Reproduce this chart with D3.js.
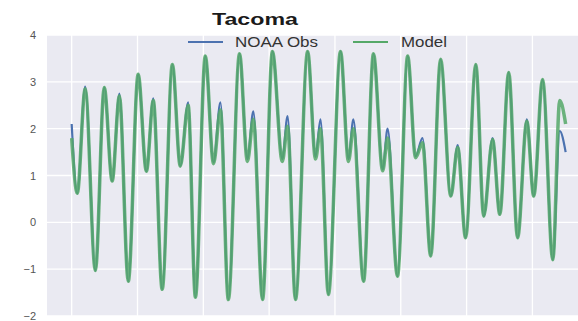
<!DOCTYPE html>
<html>
<head>
<meta charset="utf-8">
<script src="https://cdn.jsdelivr.net/npm/d3@7"></script>
<style>
body { margin: 0; background: #fff; }
text { font-family: "Liberation Sans", Arial, sans-serif; }
</style>
</head>
<body>
<div id="chart"></div>
<script>
// times in days from start, read at each high / low water
var days = [0, 0.17, 0.41, 0.72, 0.99, 1.23, 1.45, 1.72, 2.02, 2.27, 2.48, 2.75, 3.06, 3.30, 3.54, 3.76,
    4.06, 4.31, 4.52, 4.76, 5.10, 5.34, 5.52, 5.80, 6.10, 6.40, 6.56, 6.80, 7.17, 7.41, 7.56, 7.80,
    8.17, 8.41, 8.56, 8.87, 9.17, 9.45, 9.60, 9.90, 10.21, 10.45, 10.66, 10.91, 11.21, 11.52, 11.73, 11.97,
    12.28, 12.52, 12.79, 13.01, 13.28, 13.55, 13.83, 14.04, 14.31, 14.62, 14.83, 15.01];
var obs = [2.1, 0.62, 2.9, -1.03, 2.88, 0.88, 2.75, -1.26, 3.16, 1.09, 2.65, -1.43, 3.37, 1.2, 2.56, -1.6,
    3.55, 1.28, 2.56, -1.65, 3.6, 1.35, 2.37, -1.65, 3.65, 1.35, 2.27, -1.65, 3.65, 1.4, 2.2, -1.54,
    3.65, 1.35, 2.2, -1.26, 3.6, 1.13, 2.0, -1.15, 3.55, 1.41, 1.8, -0.72, 3.48, 0.56, 1.65, -0.33,
    3.37, 0.13, 1.8, 0.17, 3.2, -0.33, 2.2, 0.56, 3.05, -0.8, 1.95, 1.5];
var model = [1.8, 0.62, 2.85, -1.03, 2.88, 0.88, 2.7, -1.26, 3.16, 1.09, 2.6, -1.43, 3.37, 1.2, 2.5, -1.6,
    3.55, 1.25, 2.4, -1.65, 3.6, 1.3, 2.2, -1.65, 3.65, 1.3, 2.05, -1.65, 3.65, 1.35, 2.0, -1.54,
    3.65, 1.3, 2.0, -1.26, 3.6, 1.1, 1.8, -1.15, 3.55, 1.38, 1.7, -0.72, 3.48, 0.56, 1.6, -0.33,
    3.37, 0.13, 1.77, 0.17, 3.2, -0.33, 2.16, 0.56, 3.05, -0.8, 2.6, 2.1];
var yticks = [-2, -1, 0, 1, 2, 3, 4];
var xgrid = [0, 2, 4, 6, 8, 10, 12, 14];

var w = 578;
var h = 321;
var pl = 47, pr = 590, pt = 35, pb = 316;

var svg = d3.select("#chart")
    .append("svg")
    .attr("width", w)
    .attr("height", h);

var xscale = d3.scaleLinear()
    .domain([-0.75, 15.75])
    .range([pl, pr]);
var yscale = d3.scaleLinear()
    .domain([-2, 4])
    .range([pb, pt]);

svg.append("rect")
    .attr("x", pl)
    .attr("y", pt)
    .attr("width", pr - pl)
    .attr("height", pb - pt)
    .attr("fill", "#eaeaf2");

// grid
svg.selectAll(".hgrid")
    .data(yticks)
    .enter().append("line")
    .attr("x1", pl).attr("x2", pr)
    .attr("y1", function(d) { return yscale(d); })
    .attr("y2", function(d) { return yscale(d); })
    .attr("stroke", "#fff")
    .attr("stroke-width", 1.3);
svg.selectAll(".vgrid")
    .data(xgrid)
    .enter().append("line")
    .attr("y1", pt).attr("y2", pb)
    .attr("x1", function(d) { return xscale(d); })
    .attr("x2", function(d) { return xscale(d); })
    .attr("stroke", "#fff")
    .attr("stroke-width", 1.3);

var yaxis = d3.axisLeft()
    .scale(yscale)
    .tickValues(yticks)
    .tickFormat(d3.format("d"))
    .tickSize(0)
    .tickPadding(11);
var gY = svg.append("g")
    .attr("transform", "translate(" + pl + ",0)")
    .call(yaxis);
gY.select(".domain").remove();
gY.selectAll("text")
    .attr("font-size", 11)
    .attr("font-family", "Liberation Sans, Arial, sans-serif")
    .attr("fill", "#555");

var line = function(vals) {
    return d3.line()
        .x(function(d, i) { return xscale(days[i]); })
        .y(function(d) { return yscale(d); })
        .curve(d3.curveMonotoneX)(vals);
};

svg.append("path")
    .attr("d", line(obs))
    .attr("fill", "none")
    .attr("stroke", "#4c72b0")
    .attr("stroke-width", 2.2);
svg.append("path")
    .attr("d", line(model))
    .attr("fill", "none")
    .attr("stroke", "#55a868")
    .attr("stroke-opacity", 0.85)
    .attr("stroke-width", 3.5);

// legend
svg.append("line")
    .attr("x1", 188).attr("x2", 223).attr("y1", 42).attr("y2", 42)
    .attr("stroke", "#4c72b0").attr("stroke-width", 2.2);
svg.append("text")
    .attr("x", 235).attr("y", 47)
    .attr("font-size", 14)
    .attr("textLength", 83)
    .attr("lengthAdjust", "spacingAndGlyphs")
    .attr("fill", "#333")
    .text("NOAA Obs");
svg.append("line")
    .attr("x1", 353).attr("x2", 388).attr("y1", 42).attr("y2", 42)
    .attr("stroke", "#55a868").attr("stroke-width", 2.2);
svg.append("text")
    .attr("x", 401).attr("y", 47)
    .attr("font-size", 14)
    .attr("textLength", 46)
    .attr("lengthAdjust", "spacingAndGlyphs")
    .attr("fill", "#333")
    .text("Model");

svg.append("text")
    .attr("x", 212).attr("y", 25)
    .attr("font-size", 17)
    .attr("font-weight", "bold")
    .attr("textLength", 86)
    .attr("lengthAdjust", "spacingAndGlyphs")
    .attr("fill", "#1a1a1a")
    .text("Tacoma");
</script>
</body>
</html>
